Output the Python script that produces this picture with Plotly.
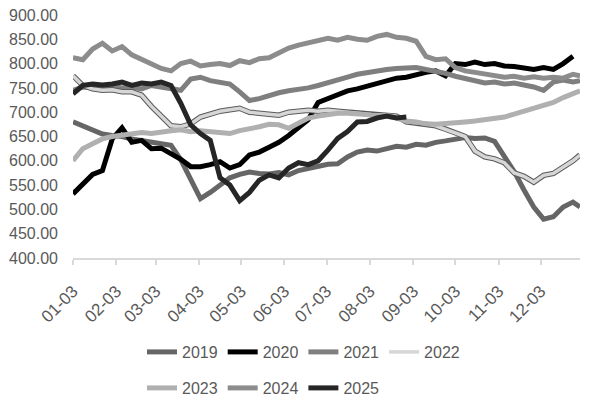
import plotly.graph_objects as go

# weekly sample days (month-day), same for every year
DAYS = ["01-03", "01-10", "01-17", "01-24", "01-31", "02-07", "02-14", "02-21", "02-28",
        "03-07", "03-14", "03-21", "03-28", "04-04", "04-11", "04-18", "04-25", "05-02",
        "05-09", "05-16", "05-23", "05-30", "06-06", "06-13", "06-20", "06-27", "07-04",
        "07-11", "07-18", "07-25", "08-01", "08-08", "08-15", "08-22", "08-29", "09-05",
        "09-12", "09-19", "09-26", "10-03", "10-10", "10-17", "10-24", "10-31", "11-07",
        "11-14", "11-21", "11-28", "12-05", "12-12", "12-19", "12-26", "12-31"]

TICK_LABELS = ["01-03", "02-03", "03-03", "04-03", "05-03", "06-03",
               "07-03", "08-03", "09-03", "10-03", "11-03", "12-03"]
Y_TICKS = [400, 450, 500, 550, 600, 650, 700, 750, 800, 850, 900]

YEARS = ["2019", "2020", "2021", "2022", "2023", "2024", "2025"]

y2019 = [680, 671, 664, 655, 652, 650, 645, 642, 638, 636, 632, 602, 560, 522, 535, 550, 565,
         572, 577, 574, 573, 576, 571, 580, 584, 590, 593, 594, 608, 618, 622, 620, 626, 630,
         628, 634, 632, 638, 641, 644, 648, 646, 647, 640, 608, 578, 540, 505, 480, 485, 505,
         515, 505]
y2020 = [532, 552, 572, 580, 645, 668, 638, 642, 625, 626, 615, 603, 588, 588, 592, 598, 585,
         592, 612, 618, 628, 638, 652, 668, 685, 720, 728, 738, 744, 748, 754, 760, 764, 770,
         772, 778, 782, 785, 775, 800, 798, 803, 798, 800, 795, 794, 790, 788, 792, 788, 800,
         815, None]
y2021 = [745, 752, 750, 748, 754, 750, 752, 748, 755, 752, 750, 745, 768, 772, 765, 762, 758,
         742, 724, 728, 735, 740, 744, 746, 750, 755, 760, 765, 772, 778, 782, 786, 788, 790,
         792, 792, 788, 785, 780, 774, 770, 765, 760, 762, 758, 760, 756, 752, 745, 762, 766,
         762, 765]
y2022 = [775, 755, 748, 745, 746, 742, 742, 735, 712, 692, 672, 670, 676, 690, 696, 702, 705,
         708, 700, 698, 696, 694, 700, 702, 704, 702, 704, 702, 700, 698, 696, 694, 694, 692,
         680, 678, 676, 672, 665, 658, 650, 620, 608, 604, 596, 575, 568, 556, 570, 574, 586,
         600, 612]
y2023 = [600, 625, 635, 645, 650, 652, 654, 658, 656, 660, 662, 664, 660, 662, 660, 658, 656,
         662, 665, 670, 675, 674, 667, 678, 688, 692, 696, 698, 698, 697, 695, 692, 692, 688,
         682, 680, 676, 675, 676, 677, 680, 682, 685, 688, 690, 696, 702, 706, 712, 720, 730,
         738, 744]
y2024 = [812, 808, 830, 842, 826, 835, 818, 808, 800, 790, 785, 800, 805, 795, 798, 800, 796,
         806, 802, 810, 812, 822, 832, 838, 842, 848, 852, 848, 854, 850, 848, 856, 860, 854,
         852, 846, 815, 808, 810, 792, 785, 782, 779, 776, 772, 774, 770, 773, 770, 772, 770,
         778, 775]
y2025 = [738, 755, 758, 756, 758, 762, 755, 760, 758, 762, 755, 718, 674, 656, 642, 565, 550,
         518, 535, 560, 571, 565, 585, 596, 592, 600, 622, 646, 660, 680, 681, 688, 692, 688,
         690, None, None, None, None, None, None, None, None, None, None, None, None, None,
         None, None, None, None, None]

SERIES = dict(zip(YEARS, [y2019, y2020, y2021, y2022, y2023, y2024, y2025]))
COLORS = {"2019": "#666666", "2020": "#000000", "2021": "#7f7f7f", "2022": "#d6d6d6",
          "2023": "#b0b0b0", "2024": "#8c8c8c", "2025": "#262626"}
TEXT = "#595959"
AXIS = "#d9d9d9"

dates = ["2001-" + d for d in DAYS]

fig = go.Figure()
for year in YEARS:
    legend = "legend" if year <= "2022" else "legend2"
    width = 5
    if year == "2022":
        # dark outline under the light 2022 line
        fig.add_trace(go.Scatter(x=dates, y=SERIES[year], mode="lines", showlegend=False,
                                 line=dict(color="#5a5a5a", width=5.5), hoverinfo="skip"))
        width = 3.5
    fig.add_trace(go.Scatter(x=dates, y=SERIES[year], name=year, mode="lines",
                             line=dict(color=COLORS[year], width=width), legend=legend))

legend_style = dict(orientation="h", xref="container", yref="container", xanchor="left",
                    yanchor="middle", font=dict(family="Liberation Sans", size=16, color=TEXT),
                    bgcolor="rgba(0,0,0,0)", itemwidth=30)

fig.update_layout(
    width=589, height=400,
    margin=dict(l=73, r=9, t=15, b=142, autoexpand=False),
    paper_bgcolor="white", plot_bgcolor="white",
    font=dict(family="Liberation Sans", color=TEXT),
    xaxis=dict(type="date", range=["2001-01-03", "2001-12-31"], automargin=False,
               tickvals=["2001-" + t for t in TICK_LABELS], ticktext=TICK_LABELS,
               tickangle=-45, tickfont=dict(size=17, color=TEXT), ticklabelstandoff=10,
               ticks="outside", ticklen=5, tickcolor=AXIS, tickwidth=1.5,
               showline=True, linecolor=AXIS, linewidth=1.5, showgrid=False, zeroline=False),
    yaxis=dict(range=[400, 900], tickvals=Y_TICKS, tickformat=".2f", automargin=False,
               tickfont=dict(size=16, color=TEXT), ticklabelstandoff=14,
               showgrid=False, zeroline=False, showline=False),
    legend=dict(legend_style, x=142 / 589, y=1 - 352 / 400),
    legend2=dict(legend_style, x=142 / 589, y=1 - 388 / 400),
    showlegend=True,
)

# page has a default body margin; drop it so the figure sits at the window corner
fig.write_html("out.html", config={"displayModeBar": False},
               post_script="document.body.style.margin = '0';")
